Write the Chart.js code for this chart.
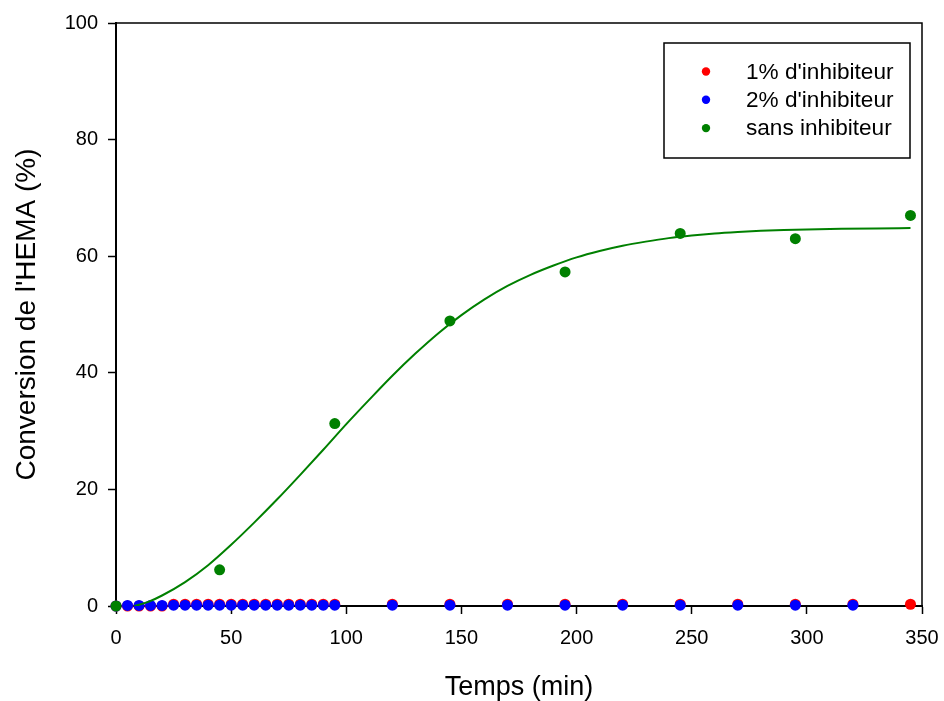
<!DOCTYPE html>
<html>
<head>
<meta charset="utf-8">
<script src="https://cdn.jsdelivr.net/npm/chart.js@4/dist/chart.umd.min.js"></script>
<style>
  html, body { margin: 0; padding: 0; background: #fff; }
  #wrap { width: 944px; height: 701px; }
</style>
</head>
<body>
<div id="wrap"><canvas id="hemaChart" width="944" height="701"></canvas></div>
<script>
'use strict';

// temps de prélèvement (min)
let timeRed = [0, 5, 10, 15, 20, 25, 30, 35, 40, 45, 50, 55, 60, 65, 70, 75, 80, 85, 90, 95, 120, 145, 170, 195, 220, 245, 270, 295, 320, 345];
let convRed = [0, 0, 0, 0, 0, 0.3, 0.3, 0.3, 0.3, 0.3, 0.3, 0.3, 0.3, 0.3, 0.3, 0.3, 0.3, 0.3, 0.3, 0.3, 0.3, 0.3, 0.3, 0.3, 0.3, 0.3, 0.3, 0.3, 0.3, 0.3];

let timeBlue = [0, 5, 10, 15, 20, 25, 30, 35, 40, 45, 50, 55, 60, 65, 70, 75, 80, 85, 90, 95, 120, 145, 170, 195, 220, 245, 270, 295, 320];
let convBlue = [0, 0.1, 0.1, 0.1, 0.1, 0.15, 0.15, 0.15, 0.15, 0.15, 0.15, 0.15, 0.15, 0.15, 0.15, 0.15, 0.15, 0.15, 0.15, 0.15, 0.15, 0.15, 0.15, 0.15, 0.15, 0.15, 0.15, 0.15, 0.15];

let timeGreen = [0, 45, 95, 145, 195, 245, 295, 345];
let convGreen = [0, 6.2, 31.3, 48.9, 57.3, 63.9, 63.0, 67.0];

// courbe d'ajustement
let fitTime = [8, 14, 20, 30, 40, 50, 60, 70, 80, 90, 100, 110, 120, 130, 140, 150, 160, 170, 180, 190, 200, 210, 220, 230, 240, 250, 260, 270, 280, 290, 300, 315, 330, 345];
let fitConv = [0, 0.7, 1.8, 4.1, 7.0, 10.5, 14.3, 18.3, 22.5, 26.8, 31.2, 35.4, 39.5, 43.3, 46.8, 49.9, 52.6, 54.9, 56.8, 58.4, 59.8, 60.9, 61.8, 62.5, 63.1, 63.55, 63.9, 64.15, 64.35, 64.5, 64.6, 64.7, 64.77, 64.82];

let xTicks = [0, 50, 100, 150, 200, 250, 300, 350];
let yTicks = [0, 20, 40, 60, 80, 100];

let seriesNames = ["1% d'inhibiteur", "2% d'inhibiteur", 'sans inhibiteur'];
let seriesColors = ['#ff0000', '#0000ff', '#008000'];

function toPoints(xs, ys) {
  let pts = [];
  for (let i = 0; i < xs.length; i++) {
    pts.push({ x: xs[i], y: ys[i] });
  }
  return pts;
}

const FONT = 'Liberation Sans, Arial, Helvetica, sans-serif';

// cadre haut + droite
const framePlugin = {
  id: 'frame',
  afterDraw(chart) {
    let ctx = chart.ctx;
    let a = chart.chartArea;
    ctx.save();
    ctx.strokeStyle = '#000';
    ctx.lineWidth = 1.5;
    ctx.beginPath();
    ctx.moveTo(a.left, a.top);
    ctx.lineTo(a.right, a.top);
    ctx.lineTo(a.right, a.bottom);
    ctx.stroke();
    ctx.restore();
  }
};

// légende encadrée dans la zone du graphique
const boxLegend = {
  id: 'boxLegend',
  afterDraw(chart) {
    let ctx = chart.ctx;
    let a = chart.chartArea;
    let w = 246, h = 115;
    let left = a.right - 12 - w;
    let top = a.top + 20;
    ctx.save();
    ctx.fillStyle = '#fff';
    ctx.fillRect(left, top, w, h);
    ctx.strokeStyle = '#000';
    ctx.lineWidth = 1.5;
    ctx.strokeRect(left, top, w, h);
    ctx.font = '22.6px ' + FONT;
    ctx.textBaseline = 'middle';
    for (let i = 0; i < 3; i++) {
      let ds = chart.data.datasets[i];
      let y = top + 28.5 + i * 28.3;
      ctx.fillStyle = ds.backgroundColor;
      ctx.beginPath();
      ctx.arc(left + 42, y, 4.2, 0, Math.PI * 2);
      ctx.fill();
      ctx.fillStyle = '#000';
      ctx.fillText(ds.label, left + 82, y + 1);
    }
    ctx.restore();
  }
};

const ctx = document.getElementById('hemaChart');

new Chart(ctx, {
  type: 'scatter',
  data: {
    datasets: [
      {
        label: seriesNames[0],
        data: toPoints(timeRed, convRed),
        backgroundColor: seriesColors[0],
        borderWidth: 0,
        pointRadius: 5.5,
        clip: false,
        order: 3,
      },
      {
        label: seriesNames[1],
        data: toPoints(timeBlue, convBlue),
        backgroundColor: seriesColors[1],
        borderWidth: 0,
        pointRadius: 5.5,
        clip: false,
        order: 2,
      },
      {
        label: seriesNames[2],
        data: toPoints(timeGreen, convGreen),
        backgroundColor: seriesColors[2],
        borderWidth: 0,
        pointRadius: 5.5,
        clip: false,
        order: 0,
      },
      {
        label: 'ajustement',
        data: toPoints(fitTime, fitConv),
        showLine: true,
        borderColor: seriesColors[2],
        backgroundColor: seriesColors[2],
        borderWidth: 2,
        pointRadius: 0,
        cubicInterpolationMode: 'monotone',
        order: 1,
      },
    ],
  },
  options: {
    responsive: false,
    animation: false,
    layout: { padding: { left: 0, top: 23, right: 22, bottom: 0 } },
    plugins: {
      legend: { display: false },
      tooltip: { enabled: false },
    },
    scales: {
      x: {
        type: 'linear',
        min: 0,
        max: 350,
        afterBuildTicks(scale) {
          scale.ticks = xTicks.map(v => ({ value: v }));
        },
        afterFit(scale) {
          scale.height = 95;
          scale.paddingLeft = 0;
          scale.paddingRight = 0;
        },
        ticks: {
          color: '#000',
          font: { family: FONT, size: 20 },
          padding: 12,
          maxRotation: 0,
        },
        grid: {
          drawOnChartArea: false,
          drawTicks: true,
          tickLength: 8,
          tickWidth: 1.5,
          tickColor: '#000',
        },
        border: { color: '#000', width: 2 },
        title: {
          display: true,
          text: 'Temps (min)',
          color: '#000',
          font: { family: FONT, size: 27, lineHeight: 1 },
          padding: { top: 0, bottom: 0 },
        },
      },
      y: {
        type: 'linear',
        min: 0,
        max: 100,
        afterBuildTicks(scale) {
          scale.ticks = yTicks.map(v => ({ value: v }));
        },
        afterFit(scale) {
          scale.width = 116;
          scale.paddingTop = 0;
          scale.paddingBottom = 0;
        },
        ticks: {
          color: '#000',
          font: { family: FONT, size: 20 },
          padding: 10,
        },
        grid: {
          drawOnChartArea: false,
          drawTicks: true,
          tickLength: 8,
          tickWidth: 1.5,
          tickColor: '#000',
        },
        border: { color: '#000', width: 2 },
        title: {
          display: true,
          text: "Conversion de l'HEMA (%)",
          color: '#000',
          font: { family: FONT, size: 28, lineHeight: 1 },
          padding: { top: 13, bottom: 0 },
        },
      },
    },
  },
  plugins: [framePlugin, boxLegend],
});
</script>
</body>
</html>
